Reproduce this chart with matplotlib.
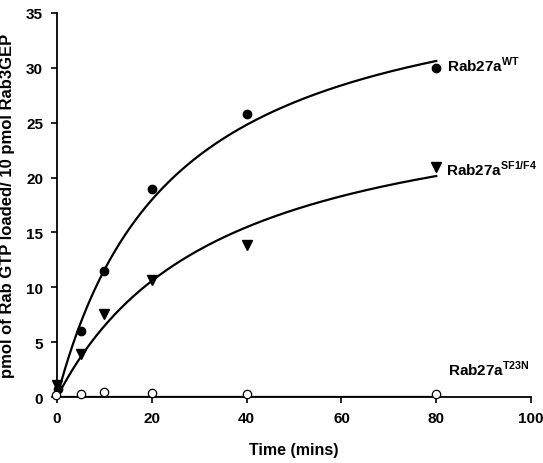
import numpy as np
import matplotlib
matplotlib.use("Agg")
import matplotlib.pyplot as plt

plt.rcParams["font.family"] = ["Liberation Sans", "DejaVu Sans"]
plt.rcParams["font.weight"] = "bold"
plt.rcParams["mathtext.fontset"] = "custom"
plt.rcParams["mathtext.rm"] = "Liberation Sans:bold"
plt.rcParams["mathtext.bf"] = "Liberation Sans:bold"

# time points (mins) and pmol GTP loaded
time_wt = [0.3, 5, 10, 20, 40, 80]
gtp_wt = [0.7, 6.0, 11.5, 19.0, 25.8, 30.0]

time_sf = [0, 5, 10, 20, 40, 80]
gtp_sf = [1.1, 3.9, 7.6, 10.7, 13.9, 21.0]

time_t23n = [-0.3, 5, 10, 20, 40, 80]
gtp_t23n = [0.2, 0.25, 0.5, 0.35, 0.25, 0.25]

# hyperbolic fits y = bmax * t / (k + t)
fit_wt = (40.0, 24.5)
fit_sf = (28.8, 34.4)
fit_t23n = (0.0, 1.0)

fig = plt.figure(figsize=(5.43, 4.64), dpi=100)
ax = fig.add_axes([0.105, 0.142, 0.873, 0.828])

tt = np.linspace(0, 80, 300)
for bmax, kd in [fit_wt, fit_sf, fit_t23n]:
    ax.plot(tt, bmax * tt / (kd + tt), color="black", lw=1.6, zorder=2)

ax.plot(time_wt, gtp_wt, "o", color="black", ms=6, zorder=3, clip_on=False)
ax.plot(time_sf, gtp_sf, "v", color="black", ms=7, zorder=3, clip_on=False)
ax.plot(time_t23n, gtp_t23n, "o", mfc="white", mec="black", mew=0.9, ms=6,
        zorder=4, clip_on=False)

ax.text(82.3, 30.3, r"Rab27a$^{\rm WT}$", fontsize=11, va="center")
ax.text(82.0, 20.8, r"Rab27a$^{\rm SF1/F4}$", fontsize=11, va="center")
ax.text(82.5, 2.6, r"Rab27a$^{\rm T23N}$", fontsize=11, va="center")

ax.set_xlim(0, 100)
ax.set_ylim(0, 35)
ax.set_xticks([0, 20, 40, 60, 80, 100])
ax.set_yticks([0, 5, 10, 15, 20, 25, 30, 35])
ax.spines["top"].set_visible(False)
ax.spines["right"].set_visible(False)
ax.spines["left"].set_linewidth(1.3)
ax.spines["bottom"].set_linewidth(1.3)
ax.tick_params(width=1.2, length=4, labelsize=11, pad=6)
ax.set_xlabel("Time (mins)", fontsize=11.5, fontweight="bold", labelpad=12)
ax.set_ylabel("pmol of Rab GTP loaded/ 10 pmol Rab3GEP", fontsize=12,
              fontweight="bold", labelpad=8)

fig.savefig("out.png", dpi=100)
